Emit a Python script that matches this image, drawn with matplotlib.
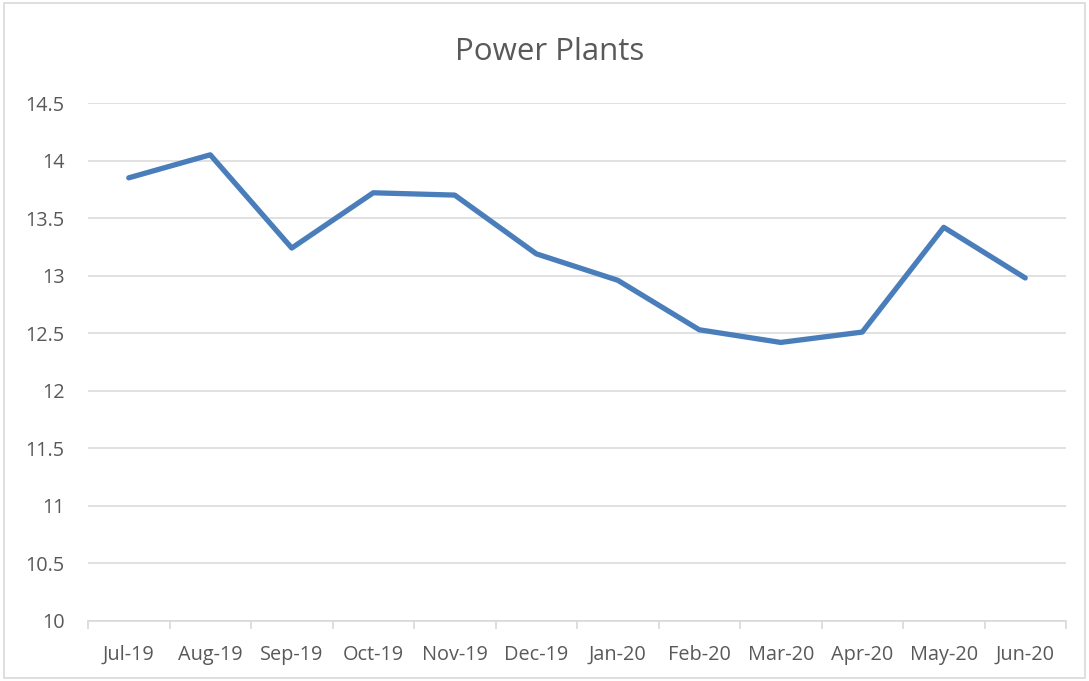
import matplotlib
matplotlib.use("Agg")
import matplotlib.pyplot as plt
from matplotlib.patches import Rectangle

months = ["Jul-19", "Aug-19", "Sep-19", "Oct-19", "Nov-19", "Dec-19",
          "Jan-20", "Feb-20", "Mar-20", "Apr-20", "May-20", "Jun-20"]
values = [13.85, 14.05, 13.24, 13.72, 13.70, 13.19,
          12.96, 12.53, 12.42, 12.51, 13.42, 12.98]
y_ticks = [10, 10.5, 11, 11.5, 12, 12.5, 13, 13.5, 14, 14.5]
y_labels = ["10", "10.5", "11", "11.5", "12", "12.5", "13", "13.5", "14", "14.5"]

plt.rcParams['font.family'] = ['Open Sans', 'DejaVu Sans']
text_color = "#595959"

fig = plt.figure(figsize=(10.89, 6.81), dpi=100)
fig.patches.append(Rectangle((0.004, 0.004), 0.992, 0.992, transform=fig.transFigure,
                             fill=False, edgecolor="#D9D9D9", linewidth=1.2))

ax = fig.add_axes([88 / 1089, 60 / 681, 978 / 1089, 518 / 681])
x = range(len(months))
ax.plot(x, values, color="#4A7EBB", linewidth=3.8, solid_joinstyle="round",
        solid_capstyle="round", zorder=3)

ax.set_xlim(-0.5, len(months) - 0.5)
ax.set_ylim(10, 14.5)
ax.set_yticks(y_ticks)
ax.set_yticklabels(y_labels)
ax.set_xticks(list(x))
ax.set_xticklabels(months)
ax.set_xticks([i - 0.5 for i in range(len(months) + 1)], minor=True)

ax.grid(axis="y", color="#D9D9D9", linewidth=1.1)
ax.set_axisbelow(True)
for side in ["top", "right", "left"]:
    ax.spines[side].set_visible(False)
ax.spines["bottom"].set_color("#D9D9D9")
ax.spines["bottom"].set_linewidth(1.2)

ax.tick_params(axis="y", length=0, pad=17, labelsize=14.3, labelcolor=text_color)
ax.tick_params(axis="x", which="major", length=0, pad=17, labelsize=14.3, labelcolor=text_color)
ax.tick_params(axis="x", which="minor", length=6, width=1.2, color="#D9D9D9")

fig.text(0.505, 0.924, "Power Plants", ha="center", va="center",
         fontsize=22.5, color=text_color)

fig.savefig("out.png", dpi=100)
